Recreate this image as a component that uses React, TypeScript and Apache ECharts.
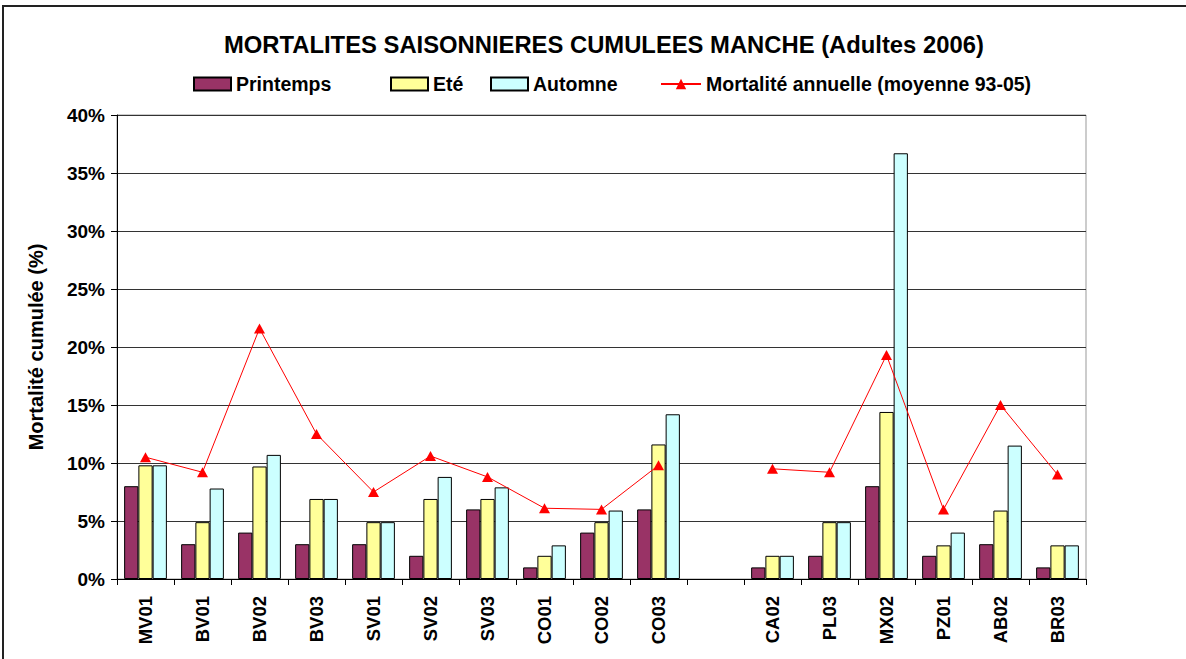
import React, { useEffect, useRef } from "react";
import * as echarts from "echarts";

const categories = ["MV01", "BV01", "BV02", "BV03", "SV01", "SV02", "SV03", "CO01", "CO02", "CO03", "", "CA02", "PL03", "MX02", "PZ01", "AB02", "BR03"];
const printemps = [8, 3, 4, 3, 3, 2, 6, 1, 4, 6, null, 1, 2, 8, 2, 3, 1];
const ete = [9.8, 4.9, 9.7, 6.9, 4.9, 6.9, 6.9, 2, 4.9, 11.6, null, 2, 4.9, 14.4, 2.9, 5.9, 2.9];
const automne = [9.8, 7.8, 10.7, 6.9, 4.9, 8.8, 7.9, 2.9, 5.9, 14.2, null, 2, 4.9, 36.7, 4, 11.5, 2.9];
const mortaliteAnnuelle = [10.5, 9.2, 21.6, 12.5, 7.5, 10.6, 8.8, 6.1, 6.0, 9.8, null, 9.5, 9.2, 19.3, 6.0, 15.0, 9.0];

const FONT = "'Liberation Sans', Arial, sans-serif";

export default function App() {
  const ref = useRef<HTMLDivElement>(null);
  useEffect(() => {
    if (!ref.current) return;
    const chart = echarts.init(ref.current, null, { renderer: "svg" });
    const legendText = { fontFamily: FONT, fontWeight: "bold" as const, fontSize: 19.5, color: "#000" };
    const barStyle = (c: string) => ({ color: c, borderColor: "#000", borderWidth: 1 });
    chart.setOption({
      animation: false,
      backgroundColor: "#fff",
      title: {
        text: "MORTALITES SAISONNIERES CUMULEES MANCHE (Adultes 2006)",
        left: 219,
        top: 27,
        textStyle: { fontFamily: FONT, fontWeight: "bold", fontSize: 23.8, color: "#000" },
      },
      graphic: [
        { type: "rect", shape: { x: 3, y: 6, width: 1400, height: 900 }, style: { fill: "none", stroke: "#222", lineWidth: 2 }, silent: true },
      ],
      legend: [
        { data: ["Printemps"], icon: "rect", left: 193, top: 74, itemWidth: 37, itemHeight: 13, textStyle: legendText, padding: 0 },
        { data: ["Eté"], icon: "rect", left: 390, top: 74, itemWidth: 37, itemHeight: 13, textStyle: legendText, padding: 0 },
        { data: ["Automne"], icon: "rect", left: 490, top: 74, itemWidth: 37, itemHeight: 13, textStyle: legendText, padding: 0 },
        { data: ["Mortalité annuelle (moyenne 93-05)"], left: 660, top: 74, itemWidth: 40, itemHeight: 13, textStyle: legendText, padding: 0 },
      ],
      grid: { left: 117, right: 100, top: 115, bottom: 80, show: true, borderColor: "#999", borderWidth: 1, backgroundColor: "transparent" },
      xAxis: {
        type: "category",
        data: categories,
        axisLine: { lineStyle: { color: "#000", width: 1 } },
        axisTick: { show: true, length: 6, lineStyle: { color: "#000" }, alignWithLabel: false },
        axisLabel: { rotate: 90, margin: 17, fontFamily: FONT, fontWeight: "bold", fontSize: 18.5, color: "#000", interval: 0 },
      },
      yAxis: {
        type: "value",
        min: 0,
        max: 40,
        interval: 5,
        name: "Mortalité cumulée (%)",
        nameLocation: "middle",
        nameGap: 71,
        nameTextStyle: { fontFamily: FONT, fontWeight: "bold", fontSize: 20, color: "#000" },
        axisLine: { show: true, lineStyle: { color: "#000", width: 1 } },
        axisTick: { show: true, length: 6, inside: false, lineStyle: { color: "#000" } },
        axisLabel: { formatter: "{value}%", margin: 12, fontFamily: FONT, fontWeight: "bold", fontSize: 19, color: "#000" },
        splitLine: { show: true, lineStyle: { color: "#333", width: 1 } },
      },
      series: [
        { name: "Printemps", type: "bar", data: printemps, barGap: "0%", barCategoryGap: "25%", itemStyle: barStyle("#993366") },
        { name: "Eté", type: "bar", data: ete, barGap: "0%", barCategoryGap: "25%", itemStyle: barStyle("#FFFF99") },
        { name: "Automne", type: "bar", data: automne, barGap: "0%", barCategoryGap: "25%", itemStyle: barStyle("#CCFFFF") },
        {
          name: "Mortalité annuelle (moyenne 93-05)",
          type: "line",
          data: mortaliteAnnuelle,
          connectNulls: false,
          symbol: "triangle",
          symbolSize: [11, 10],
          lineStyle: { color: "#FF0000", width: 1 },
          itemStyle: { color: "#FF0000" },
          z: 5,
        },
      ],
    });
    return () => chart.dispose();
  }, []);
  return <div ref={ref} style={{ position: "fixed", left: 0, top: 0, width: 1186, height: 659 }} />;
}
